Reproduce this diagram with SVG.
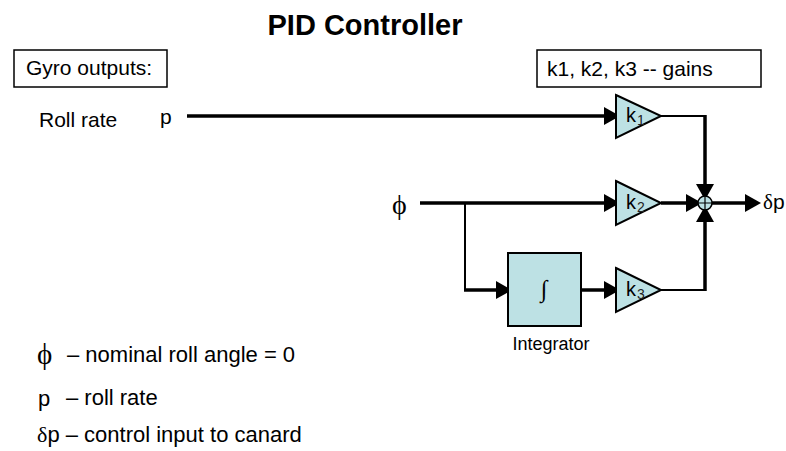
<svg xmlns="http://www.w3.org/2000/svg" width="786" height="451" viewBox="0 0 786 451">
<style>
text{font-family:"Liberation Sans",Arial,sans-serif;fill:#000}
.t{font-size:21px}
.lg{font-size:22px}
.title{font-size:29px;font-weight:bold}
.box{fill:#fff;stroke:#000;stroke-width:1.5}
.gain{fill:#BDE1E4;stroke:#000;stroke-width:2;stroke-linejoin:miter}
.k{font-size:20px}
.sub{font-size:14px;fill:#222}
.thick{fill:none;stroke:#000;stroke-width:3.5}
.thin{fill:none;stroke:#000;stroke-width:2}
.arr{marker-end:url(#ah)}
.sym{font-family:"Liberation Serif","Times New Roman",serif}
</style>
<defs>
<marker id="ah" viewBox="0 0 16 18" refX="12" refY="9" markerWidth="16" markerHeight="18" markerUnits="userSpaceOnUse" orient="auto">
<path d="M0,0 L16,9 L0,18 Z" fill="#000"/>
</marker>
</defs>
<rect width="786" height="451" fill="#fff"/>
<text class="title" x="365" y="35" text-anchor="middle">PID Controller</text>
<g id="gyro-label">
<rect class="box" x="14" y="50" width="153" height="37"/>
<text class="t" x="26" y="75">Gyro outputs:</text>
</g>
<g id="gains-label">
<rect class="box" x="537" y="50" width="224" height="37"/>
<text class="t" x="547" y="76">k1, k2, k3 -- gains</text>
</g>
<g id="input-p">
<text class="t" x="39" y="127">Roll rate</text>
<text class="t" x="160" y="124">p</text>
</g>
<g id="input-phi">
<text class="sym" x="392" y="214" style="font-size:28px">ϕ</text>
</g>
<g id="connectors">
<path class="thick arr" d="M187,116 H616"/>
<path class="thin" d="M661,116 H705"/>
<path class="thick arr" d="M705,115 V196"/>
<path class="thick arr" d="M420,203 H616"/>
<path class="thin" d="M465,203 V290"/>
<path class="thick arr" d="M464,290 H508"/>
<path class="thick arr" d="M581,290 H616"/>
<path class="thin" d="M661,290 H705"/>
<path class="thick arr" d="M705,291 V210"/>
<path class="thick arr" d="M661,203 H698"/>
<path class="thick arr" d="M712,203 H757"/>
</g>
<g id="gain-k1">
<path class="gain" d="M616,95 L661,116 L616,138 Z"/>
<text class="k" x="626" y="122">k</text><text class="sub" x="637" y="125">1</text>
</g>
<g id="gain-k2">
<path class="gain" d="M616,181 L661,203 L616,225 Z"/>
<text class="k" x="626" y="209">k</text><text class="sub" x="637" y="212">2</text>
</g>
<g id="gain-k3">
<path class="gain" d="M616,268 L661,290 L616,312 Z"/>
<text class="k" x="626" y="296">k</text><text class="sub" x="637" y="299">3</text>
</g>
<g id="integrator">
<rect class="gain" x="508" y="253" width="73" height="73"/>
<text class="sym" x="544" y="297" text-anchor="middle" style="font-size:24px">∫</text>
<text class="t" x="551" y="350" text-anchor="middle" style="font-size:18px">Integrator</text>
</g>
<g id="sum">
<circle cx="705" cy="203" r="7" fill="#BDE1E4" stroke="#000" stroke-width="1.5"/>
<path d="M698,203 H712 M705,196 V210" stroke="#000" stroke-width="1.2"/>
</g>
<g id="output">
<text class="t" x="763" y="209"><tspan class="sym">δ</tspan>p</text>
</g>
<g id="legend">
<text class="sym" x="37" y="364" style="font-size:29px">ϕ</text>
<text class="lg" x="67" y="362">– nominal roll angle = 0</text>
<text class="lg" x="38" y="406">p</text>
<text class="lg" x="66" y="405">– roll rate</text>
<text class="lg" x="37" y="442"><tspan class="sym">δ</tspan>p – control input to canard</text>
</g>
</svg>
